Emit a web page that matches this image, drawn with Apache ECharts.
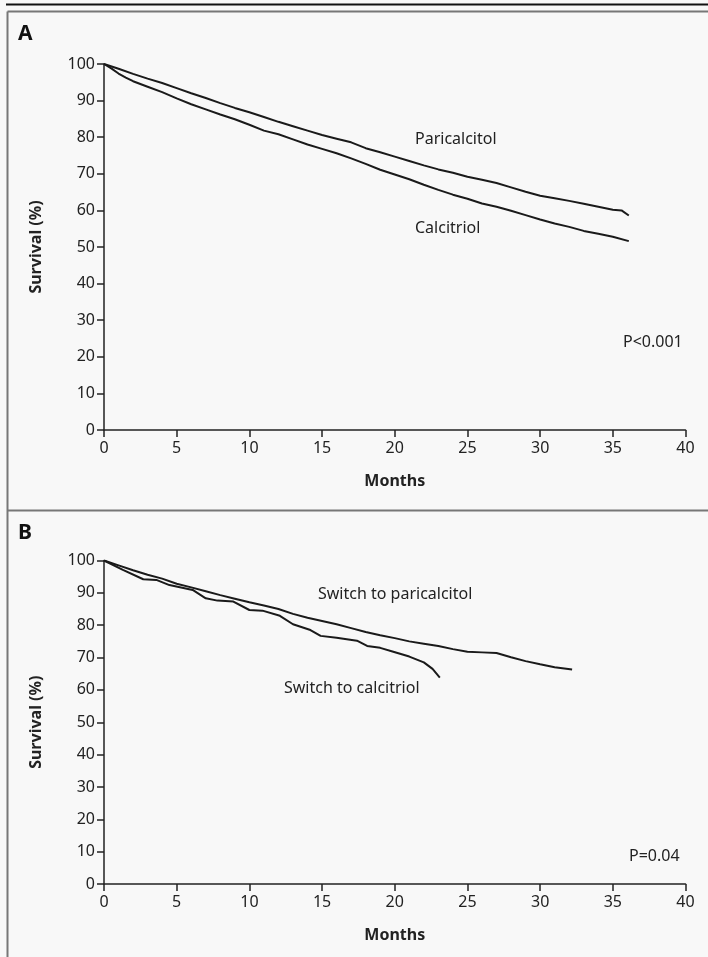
<!DOCTYPE html>
<html><head><meta charset="utf-8">
<script src="https://cdn.jsdelivr.net/npm/echarts@6/dist/echarts.min.js"></script>
<style>html,body{margin:0;padding:0;background:#f8f8f8;}#c{width:708px;height:957px;}</style>
</head><body><div id="c"></div>
<script>
// Panel A: months / survival (%)
const paricalcitolA = [[0,100],[1,98.7],[2,97.3],[3,96.0],[4,94.8],[5,93.4],[6,92.0],[7,90.7],[8,89.3],[9,88.0],[10,86.8],[11,85.5],[12,84.2],[13,83.0],[14,81.8],[15,80.6],[16,79.6],[17,78.6],[18,77.0],[19,75.9],[20,74.7],[21,73.5],[22,72.3],[23,71.2],[24,70.3],[25,69.2],[26,68.4],[27,67.5],[28,66.3],[29,65.1],[30,64.0],[31,63.3],[32,62.6],[33,61.8],[34,61.0],[35,60.2],[35.6,60.0],[36.1,58.6]];
const calcitriolA = [[0,100],[0.5,98.8],[1,97.4],[1.5,96.3],[2,95.3],[3,93.8],[4,92.3],[5,90.6],[6,89.0],[7,87.6],[8,86.2],[9,84.9],[10,83.4],[11,81.8],[12,80.8],[13,79.4],[14,78.0],[15,76.8],[16,75.6],[17,74.2],[18,72.7],[19,71.1],[20,69.8],[21,68.5],[22,67.0],[23,65.6],[24,64.3],[25,63.2],[26,61.9],[27,61.0],[28,59.9],[29,58.7],[30,57.5],[31,56.4],[32,55.5],[33,54.4],[34,53.6],[35,52.8],[36.1,51.6]];
// Panel B
const switchParicalcitolB = [[0,100],[1,98.5],[2,97.0],[3,95.6],[4,94.4],[5,92.8],[6,91.7],[7,90.5],[8,89.3],[9,88.2],[10,87.1],[11,86.1],[12,85.0],[13,83.5],[14,82.3],[15,81.3],[16,80.3],[17,79.1],[18,77.9],[19,76.9],[20,76.0],[21,75.0],[22,74.3],[23,73.6],[24,72.6],[25,71.8],[26,71.6],[27,71.4],[28,70.1],[29,68.9],[30,67.9],[31,67.0],[32.2,66.3]];
const switchCalcitriolB = [[0,100],[1.3,97.1],[2.7,94.2],[3.6,94.0],[4.5,92.4],[6.1,90.9],[7.0,88.3],[7.8,87.6],[8.9,87.3],[10.0,84.7],[10.9,84.5],[12.1,82.9],[13.0,80.3],[14.2,78.5],[14.9,76.7],[16.0,76.1],[17.4,75.2],[18.1,73.6],[19.0,73.0],[19.9,71.8],[21.0,70.3],[22.0,68.5],[22.6,66.5],[23.1,63.8]];
const xTicks = [0,5,10,15,20,25,30,35,40];
const yTicks = [0,10,20,30,40,50,60,70,80,90,100];
const pA = 'P<0.001', pB = 'P=0.04';

const FONT = 'Noto Sans';
const TXT = '#222';
const chart = echarts.init(document.getElementById('c'), null, {renderer:'canvas'});

function xAxis(gi){
  return {type:'value', gridIndex:gi, min:xTicks[0], max:xTicks[xTicks.length-1], interval:5,
    name:'Months', nameLocation:'middle', nameGap:43,
    nameTextStyle:{fontFamily:FONT, fontWeight:'bold', fontSize:16, color:TXT},
    axisLine:{lineStyle:{color:'#222', width:1.5}},
    axisTick:{length:7, lineStyle:{color:'#222', width:1.5}},
    axisLabel:{fontFamily:FONT, fontSize:16, color:TXT, margin:10},
    splitLine:{show:false}};
}
function yAxis(gi){
  return {type:'value', gridIndex:gi, min:yTicks[0], max:yTicks[yTicks.length-1], interval:10,
    name:'Survival (%)', nameLocation:'middle', nameGap:60, nameRotate:90,
    nameTextStyle:{fontFamily:FONT, fontWeight:'bold', fontSize:16, color:TXT},
    axisLine:{lineStyle:{color:'#222', width:1.5}},
    axisTick:{length:7, lineStyle:{color:'#222', width:1.5}},
    axisLabel:{fontFamily:FONT, fontSize:16, color:TXT, margin:9},
    splitLine:{show:false}};
}
function line(data, gi){
  return {type:'line', xAxisIndex:gi, yAxisIndex:gi, data:data, showSymbol:false, smooth:false,
    lineStyle:{color:'#1a1a1a', width:2}, silent:true, animation:false};
}

chart.setOption({
  animation:false,
  backgroundColor:'#f8f8f8',
  grid:[{left:104, right:22.5, top:64, height:366},{left:104, right:22.5, top:560.5, height:323.5}],
  xAxis:[xAxis(0), xAxis(1)],
  yAxis:[yAxis(0), yAxis(1)],
  series:[line(paricalcitolA,0), line(calcitriolA,0), line(switchParicalcitolB,1), line(switchCalcitriolB,1)],
  graphic:[
    {type:'line', shape:{x1:6, y1:4.5, x2:708, y2:4.5}, style:{stroke:'#111', lineWidth:2}},
    {type:'line', shape:{x1:7.5, y1:11.5, x2:708, y2:11.5}, style:{stroke:'#777', lineWidth:2}},
    {type:'line', shape:{x1:7.5, y1:11.5, x2:7.5, y2:957}, style:{stroke:'#777', lineWidth:2}},
    {type:'line', shape:{x1:7.5, y1:510.5, x2:708, y2:510.5}, style:{stroke:'#777', lineWidth:2}},
    {type:'text', left:18, top:24, style:{text:'A', fontFamily:FONT, fontWeight:'bold', fontSize:21, fill:'#111'}},
    {type:'text', left:18, top:523, style:{text:'B', fontFamily:FONT, fontWeight:'bold', fontSize:21, fill:'#111'}},
    {type:'text', left:415, top:131, style:{text:'Paricalcitol', fontFamily:FONT, fontSize:16, fill:TXT}},
    {type:'text', left:415, top:220, style:{text:'Calcitriol', fontFamily:FONT, fontSize:16, fill:TXT}},
    {type:'text', left:623, top:334, style:{text:pA, fontFamily:FONT, fontSize:16, fill:TXT}},
    {type:'text', left:318, top:586, style:{text:'Switch to paricalcitol', fontFamily:FONT, fontSize:16, fill:TXT}},
    {type:'text', left:284, top:680, style:{text:'Switch to calcitriol', fontFamily:FONT, fontSize:16, fill:TXT}},
    {type:'text', left:629, top:848, style:{text:pB, fontFamily:FONT, fontSize:16, fill:TXT}}
  ]
});
</script>
</body></html>
